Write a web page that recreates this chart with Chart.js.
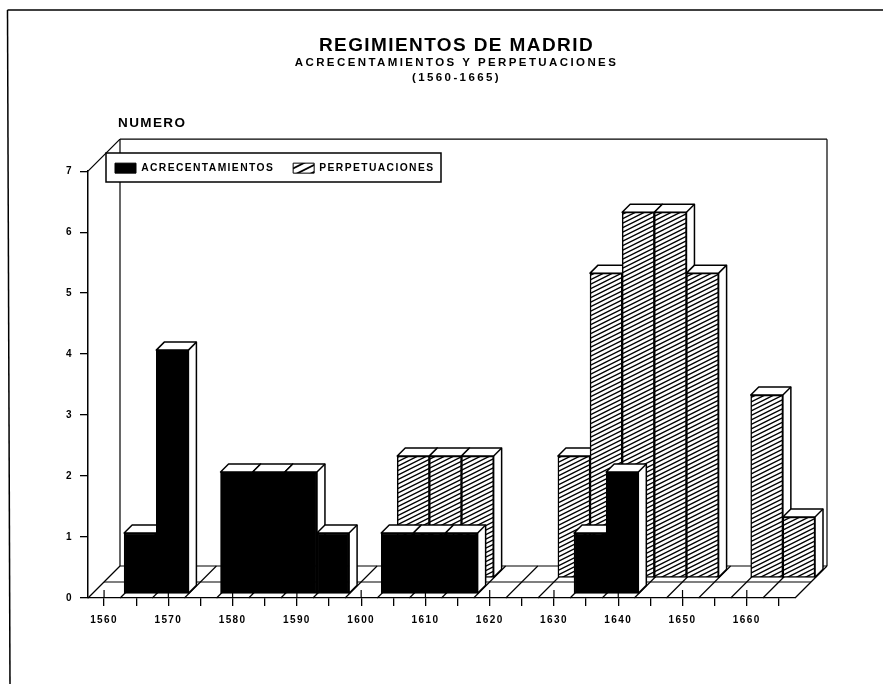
<!DOCTYPE html>
<html>
<head>
<meta charset="utf-8">
<title>Regimientos de Madrid</title>
<script src="https://cdn.jsdelivr.net/npm/chart.js@4/dist/chart.umd.js"></script>
<style>
    html, body { margin: 0; padding: 0; background: #fff; }
    canvas { display: block; }
</style>
</head>
<body>
<canvas id="chart" width="883" height="684"></canvas>
<script>
const years = ["1560","1565","1570","1575","1580","1585","1590","1595","1600","1605","1610",
               "1615","1620","1625","1630","1635","1640","1645","1650","1655","1660","1665"];
const tickLabels = ["1560","","1570","","1580","","1590","","1600","","1610",
                    "","1620","","1630","","1640","","1650","","1660",""];
const acrecentamientos = [0,1,4,0,2,2,2,1,0,1,1,1,0,0,0,1,2,0,0,0,0,0];
const perpetuaciones   = [0,0,0,0,0,0,0,0,0,2,2,2,0,0,2,5,6,6,5,0,3,1];
const yTicks = [0,1,2,3,4,5,6,7];

const INK = "#000";
const FONT = "'Liberation Sans', Arial, sans-serif";
const DEPTH = 32;           // floor depth, px on both axes
const BAR_DEPTH = 8;        // depth of a single bar
const ROW_SHIFT = [4, 20];  // front row, back row
const LEGEND_BOX = { left: 106, top: 153, right: 441, bottom: 182 };
const LEGEND_PAD = 19;
const TITLE_SHIFT = 59;     // the title block is not centred on the plot

function hatch(w, h, lineWidth, lines) {
    const tile = document.createElement("canvas");
    tile.width = w;
    tile.height = h;
    const c = tile.getContext("2d");
    c.fillStyle = "#fff";
    c.fillRect(0, 0, w, h);
    c.strokeStyle = INK;
    c.lineWidth = lineWidth;
    for (let i = -lines; i <= lines; i++) {
        const off = i * h / lines;
        c.beginPath();
        c.moveTo(-w, h + h + off);
        c.lineTo(w + w, -h + off);
        c.stroke();
    }
    return c.createPattern(tile, "repeat");
}

// bar with a side and a top face, drawn back to front so neighbours overlap
class Bar3D extends Chart.BarElement {
    static id = "bar3d";
    draw(ctx) {
        if (Math.abs(this.base - this.y) < 0.5) return;
        const shift = this.rowShift;
        const left = this.x - this.width / 2;
        const right = this.x + this.width / 2;
        ctx.save();
        ctx.translate(shift, -shift);
        ctx.fillStyle = "#fff";
        ctx.strokeStyle = INK;
        ctx.lineWidth = 1.5;
        ctx.lineJoin = "round";
        ctx.beginPath();
        ctx.moveTo(right, this.base);
        ctx.lineTo(right + BAR_DEPTH, this.base - BAR_DEPTH);
        ctx.lineTo(right + BAR_DEPTH, this.y - BAR_DEPTH);
        ctx.lineTo(left + BAR_DEPTH, this.y - BAR_DEPTH);
        ctx.lineTo(left, this.y);
        ctx.lineTo(right, this.y);
        ctx.closePath();
        ctx.fill();
        ctx.stroke();
        ctx.beginPath();
        ctx.moveTo(right, this.y);
        ctx.lineTo(right + BAR_DEPTH, this.y - BAR_DEPTH);
        ctx.stroke();
        super.draw(ctx);
        ctx.restore();
    }
}

class Bar3DController extends Chart.BarController {
    static id = "bar3d";
    static defaults = { ...Chart.BarController.defaults, dataElementType: "bar3d" };
    update(mode) {
        super.update(mode);
        this._cachedMeta.data.forEach((el) => { el.rowShift = ROW_SHIFT[this.index]; });
    }
}

Chart.register(Bar3D, Bar3DController);

function line(ctx, x1, y1, x2, y2) {
    ctx.beginPath();
    ctx.moveTo(x1, y1);
    ctx.lineTo(x2, y2);
    ctx.stroke();
}

const stage = {
    id: "stage",
    beforeUpdate(chart) {
        chart.ctx.letterSpacing = "1.4px";
    },
    afterLayout(chart) {
        const legend = chart.legend;
        legend.left = LEGEND_BOX.left - LEGEND_PAD + 9;
        legend.right = LEGEND_BOX.right + 2 * LEGEND_PAD;
        legend.top = LEGEND_BOX.top - LEGEND_PAD + 10;
        legend.bottom = LEGEND_BOX.bottom;
        legend.adjustHitBoxes();

        chart.boxes.filter((b) => b.options && b.options.text).forEach((b) => {
            b.left += TITLE_SHIFT;
            b.right += TITLE_SHIFT;
            // the two small lines are spaced wider than the main title
            if (Array.isArray(b.options.text)) {
                const draw = b.draw;
                b.draw = function () {
                    chart.ctx.letterSpacing = "2.4px";
                    draw.apply(b, arguments);
                    chart.ctx.letterSpacing = "1.4px";
                };
            }
        });
    },
    beforeDraw(chart) {
        const { ctx, chartArea: a, scales } = chart;
        const xs = scales.x;
        const band = (a.right - a.left) / years.length;
        ctx.save();
        ctx.strokeStyle = INK;
        ctx.fillStyle = INK;

        // page frame
        ctx.lineWidth = 1.5;
        line(ctx, 883, 10, 7.5, 10);
        line(ctx, 7.5, 10, 10, 684);

        // back wall
        ctx.lineWidth = 1.2;
        line(ctx, a.left, a.top, a.left + DEPTH, a.top - DEPTH);
        line(ctx, a.left + DEPTH, a.top - DEPTH, a.right + DEPTH, a.top - DEPTH);
        line(ctx, a.left + DEPTH, a.top - DEPTH, a.left + DEPTH, a.bottom - DEPTH);
        line(ctx, a.right + DEPTH, a.top - DEPTH, a.right + DEPTH, a.bottom - DEPTH);

        // floor
        line(ctx, a.left + DEPTH, a.bottom - DEPTH, a.right + DEPTH, a.bottom - DEPTH);
        line(ctx, a.left + DEPTH / 2, a.bottom - DEPTH / 2, a.right + DEPTH / 2, a.bottom - DEPTH / 2);
        for (let i = 0; i <= years.length; i++) {
            const x = a.left + i * band;
            line(ctx, x, a.bottom, x + DEPTH, a.bottom - DEPTH);
        }
        tickLabels.forEach((t, i) => {
            if (t) line(ctx, xs.getPixelForTick(i), a.bottom, xs.getPixelForTick(i), a.bottom - 8);
        });

        // legend box sits on top of the wall
        const b = LEGEND_BOX;
        ctx.fillStyle = "#fff";
        ctx.fillRect(b.left, b.top, b.right - b.left, b.bottom - b.top);
        ctx.lineWidth = 1.5;
        ctx.strokeRect(b.left, b.top, b.right - b.left, b.bottom - b.top);

        ctx.fillStyle = INK;
        ctx.font = "bold 13.5px " + FONT;
        ctx.textAlign = "left";
        ctx.textBaseline = "middle";
        ctx.fillText("NUMERO", 118, 123);
        ctx.restore();
    }
};

const legendHatch = hatch(14, 7, 1.8, 1);

new Chart(document.getElementById("chart"), {
    type: "bar3d",
    data: {
        labels: years,
        datasets: [
            { label: "ACRECENTAMIENTOS", data: acrecentamientos, backgroundColor: INK },
            { label: "PERPETUACIONES", data: perpetuaciones, backgroundColor: hatch(18, 9, 1.4, 2) }
        ]
    },
    options: {
        responsive: false,
        animation: false,
        layout: { padding: { left: 0, right: 88, top: 0, bottom: 0 } },
        datasets: {
            bar3d: {
                grouped: false,
                barPercentage: 1,
                categoryPercentage: 1,
                borderColor: INK,
                borderWidth: 1.5,
                borderSkipped: false,
                clip: false
            }
        },
        plugins: {
            tooltip: { enabled: false },
            title: {
                display: true,
                text: "REGIMIENTOS DE MADRID",
                color: INK,
                font: { family: FONT, size: 19, weight: "bold", lineHeight: 1 },
                padding: { top: 36, bottom: 0 }
            },
            subtitle: {
                display: true,
                text: ["ACRECENTAMIENTOS Y PERPETUACIONES", "(1560-1665)"],
                color: INK,
                font: { family: FONT, size: 11.5, weight: "bold", lineHeight: 1.3 },
                padding: { top: 0, bottom: 47 }
            },
            legend: {
                display: true,
                position: "top",
                align: "start",
                labels: {
                    boxWidth: 21,
                    boxHeight: 10,
                    padding: LEGEND_PAD,
                    color: INK,
                    font: { family: FONT, size: 10.3, weight: "bold" },
                    generateLabels: (chart) => chart.data.datasets.map((d, i) => ({
                        text: d.label,
                        datasetIndex: i,
                        fillStyle: i === 0 ? INK : legendHatch,
                        strokeStyle: INK,
                        lineWidth: 1,
                        fontColor: INK
                    }))
                }
            }
        },
        scales: {
            x: {
                type: "category",
                offset: true,
                afterFit: (s) => { s.height = 86; },
                grid: { drawOnChartArea: false, tickLength: 8, tickColor: INK, lineWidth: 1.3, offset: false },
                border: { color: INK, width: 1.3 },
                ticks: {
                    autoSkip: false,
                    maxRotation: 0,
                    padding: 8,
                    color: INK,
                    font: { family: FONT, size: 10, weight: "bold" },
                    callback: (v, i) => tickLabels[i]
                }
            },
            y: {
                min: 0,
                max: 7,
                afterFit: (s) => { s.width = 88; },
                afterBuildTicks: (s) => { s.ticks = yTicks.map((v) => ({ value: v })); },
                grid: { drawOnChartArea: false, tickLength: 8, tickColor: INK, lineWidth: 1.3 },
                border: { color: INK, width: 1.5 },
                ticks: {
                    padding: 7,
                    color: INK,
                    font: { family: FONT, size: 10, weight: "bold" }
                }
            }
        }
    },
    plugins: [stage]
});
</script>
</body>
</html>
